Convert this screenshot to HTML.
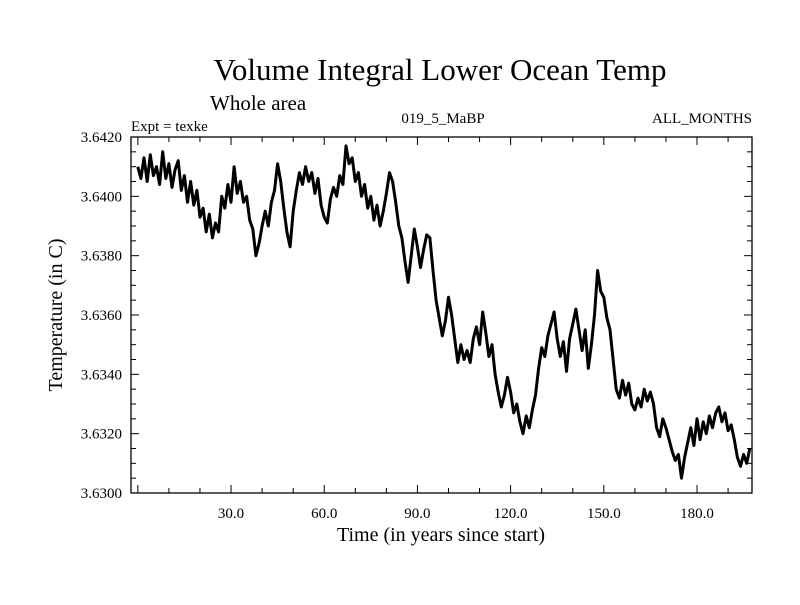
<!DOCTYPE html>
<html><head><meta charset="utf-8"><style>
body{margin:0;background:#fff}
svg text{font-family:"Liberation Serif",serif;fill:#000}
</style></head><body>
<svg id="chart" width="800" height="600">
<text x="440" y="80" font-size="31" text-anchor="middle">Volume Integral Lower Ocean Temp</text>
<text x="210" y="110" font-size="21">Whole area</text>
<text x="131" y="131" font-size="15">Expt = texke</text>
<text x="443" y="123" font-size="15" text-anchor="middle">019_5_MaBP</text>
<text x="752" y="123" font-size="15" text-anchor="end">ALL_MONTHS</text>
<text x="441" y="541" font-size="20" text-anchor="middle">Time (in years since start)</text>
<text transform="translate(62,315) rotate(-90)" font-size="20" text-anchor="middle">Temperature (in C)</text>
<g id="ticks"></g>
<rect x="131" y="137" width="621" height="356" fill="none" stroke="#000" stroke-width="1.3"/>
<path id="line" fill="none" stroke="#000" stroke-width="3" stroke-linejoin="round"/>
</svg>
<script>
const values = [3.6410,3.6406,3.6413,3.6405,3.6414,3.6407,3.6410,3.6404,3.6415,3.6406,3.6411,3.6403,3.6409,3.6412,3.6402,3.6407,3.6398,3.6405,3.6397,3.6402,3.6393,3.6396,3.6388,3.6394,3.6386,3.6391,3.6388,3.6400,3.6396,3.6404,3.6398,3.6410,3.6401,3.6405,3.6398,3.6400,3.6392,3.6389,3.6380,3.6384,3.6390,3.6395,3.6390,3.6398,3.6402,3.6411,3.6405,3.6396,3.6388,3.6383,3.6395,3.6402,3.6408,3.6404,3.6410,3.6405,3.6408,3.6401,3.6406,3.6397,3.6393,3.6391,3.6399,3.6403,3.6400,3.6407,3.6404,3.6417,3.6411,3.6413,3.6405,3.6408,3.6400,3.6404,3.6396,3.6400,3.6392,3.6397,3.6390,3.6395,3.6401,3.6408,3.6405,3.6398,3.6390,3.6386,3.6378,3.6371,3.6380,3.6389,3.6383,3.6376,3.6382,3.6387,3.6386,3.6375,3.6365,3.6359,3.6353,3.6358,3.6366,3.6360,3.6352,3.6344,3.6350,3.6345,3.6348,3.6344,3.6352,3.6356,3.6350,3.6361,3.6354,3.6346,3.6350,3.6340,3.6334,3.6329,3.6333,3.6339,3.6334,3.6327,3.6330,3.6324,3.6320,3.6326,3.6322,3.6328,3.6333,3.6342,3.6349,3.6346,3.6353,3.6357,3.6361,3.6352,3.6346,3.6351,3.6341,3.6352,3.6357,3.6362,3.6355,3.6348,3.6355,3.6342,3.6350,3.6360,3.6375,3.6368,3.6366,3.6359,3.6355,3.6345,3.6335,3.6332,3.6338,3.6333,3.6337,3.6330,3.6328,3.6332,3.6329,3.6335,3.6331,3.6334,3.6330,3.6322,3.6319,3.6325,3.6322,3.6318,3.6314,3.6311,3.6313,3.6305,3.6312,3.6317,3.6322,3.6316,3.6325,3.6318,3.6324,3.6320,3.6326,3.6322,3.6327,3.6329,3.6324,3.6327,3.6321,3.6323,3.6318,3.6312,3.6309,3.6313,3.6310,3.6315];
const years = values.map((v,i)=>i);
const xTicks = [30,60,90,120,150,180];
const xTickLabels = ["30.0","60.0","90.0","120.0","150.0","180.0"];
const yTicks = [3.630,3.632,3.634,3.636,3.638,3.640,3.642];
const yTickLabels = ["3.6300","3.6320","3.6340","3.6360","3.6380","3.6400","3.6420"];
const X0=131,X1=752,Y0=493,Y1=137, xMin=-2.2, xMax=197.7, yMin=3.630, yMax=3.642;
const sx=v=>X0+(v-xMin)/(xMax-xMin)*(X1-X0);
const sy=v=>Y0-(v-yMin)/(yMax-yMin)*(Y0-Y1);
const NS="http://www.w3.org/2000/svg";
const g=document.getElementById('ticks');
function line(x1,y1,x2,y2,name){const l=document.createElementNS(NS,'line');
l.setAttribute('x1',x1);l.setAttribute('y1',y1);l.setAttribute('x2',x2);l.setAttribute('y2',y2);
l.setAttribute('stroke','#000');l.setAttribute('stroke-width','1');


g.appendChild(l);}
function text(x,y,s,anchor,name){const t=document.createElementNS(NS,'text');
t.setAttribute('x',x);t.setAttribute('y',y);t.setAttribute('font-size','15');t.setAttribute('text-anchor',anchor);t.textContent=s;


g.appendChild(t);}
for(let v=0;v<=197;v+=10){const x=sx(v);const major=v%30===0;const L=major?8:5;
 if(x<X0+1)continue;
 line(x,Y0,x,Y0-L,'x-tick');line(x,Y1,x,Y1+L,'x-tick-top');}
xTicks.forEach((v,i)=>text(sx(v),Y0+25,xTickLabels[i],'middle','x-tick-label'));
for(let k=0;k<=24;k++){const v=yMin+k*0.0005;const y=sy(v);const major=k%4===0;const L=major?8:5;
 line(X0,y,X0+L,y,'y-tick');line(X1,y,X1-L,y,'y-tick-right');}
yTicks.forEach((v,i)=>text(X0-9,sy(v)+5,yTickLabels[i],'end','y-tick-label'));
document.getElementById('line').setAttribute('d',values.map((v,i)=>(i?'L':'M')+sx(years[i]).toFixed(1)+','+sy(v).toFixed(1)).join(''));
</script>
</body></html>
